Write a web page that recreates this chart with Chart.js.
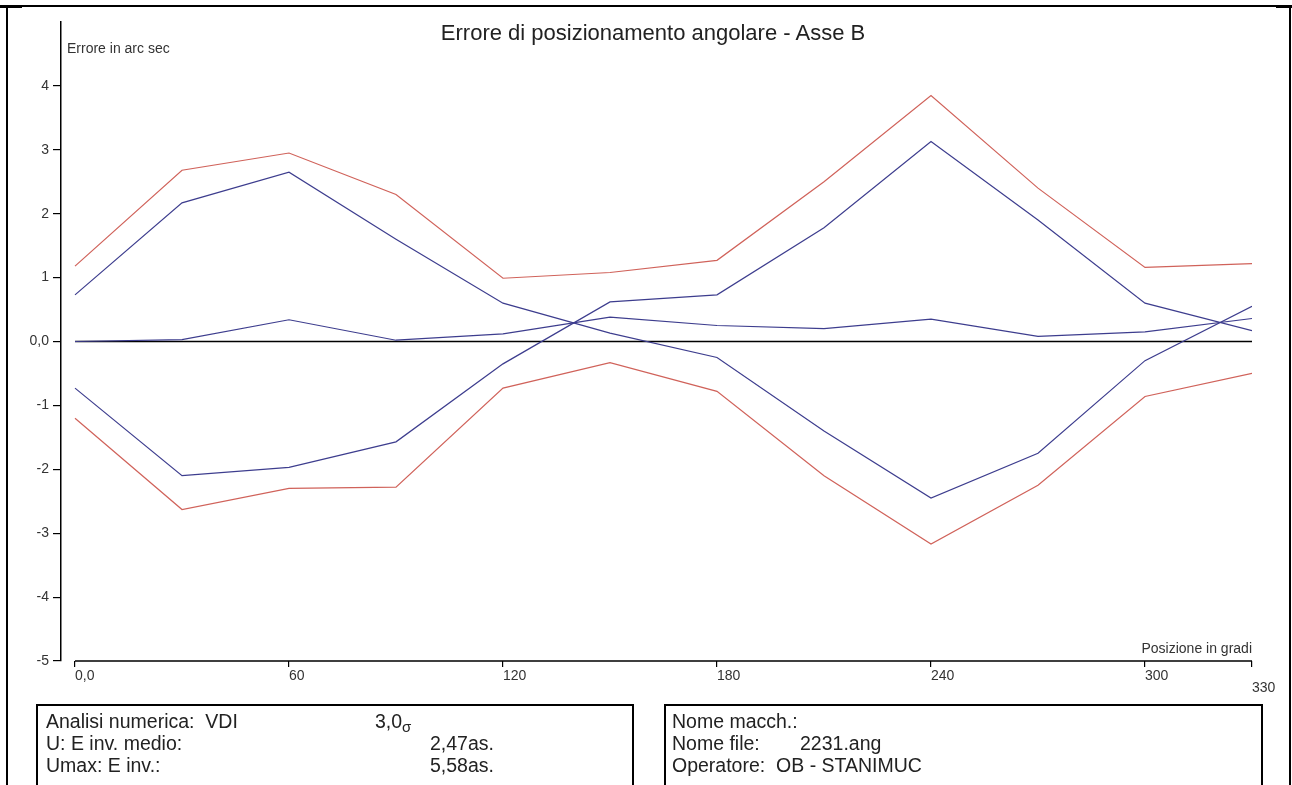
<!DOCTYPE html>
<html>
<head>
<meta charset="utf-8">
<script src="https://cdn.jsdelivr.net/npm/chart.js@4.4.1/dist/chart.umd.min.js"></script>
<style>
  html, body { margin: 0; padding: 0; background: #fff; }
  body { width: 1292px; height: 785px; overflow: hidden; position: relative; font-family: "Liberation Sans", Arial, sans-serif; color: #222; }
  #chartBox { position: absolute; left: 0; top: 0; width: 1292px; height: 785px; }
  .abs { position: absolute; white-space: pre; }
  .rule { position: absolute; background: #000; }
  .box { position: absolute; border: 2px solid #000; background: transparent; box-sizing: border-box; }
  .bt { position: absolute; font-size: 19.5px; line-height: 22px; white-space: pre; color: #222; }
</style>
</head>
<body>
<div id="chartBox"><canvas id="c" width="1292" height="785"></canvas></div>

<!-- page frame -->
<div class="rule" style="left:0;top:5px;width:1292px;height:2px;"></div>
<div class="rule" style="left:0;top:5px;width:22px;height:3px;"></div>
<div class="rule" style="left:1276px;top:5px;width:16px;height:3px;"></div>
<div class="rule" style="left:6px;top:5px;width:2px;height:780px;"></div>
<div class="rule" style="left:1289px;top:5px;width:2px;height:780px;"></div>

<!-- titles -->
<div class="abs" id="title" style="left:0;width:1306px;top:21px;text-align:center;font-size:22px;line-height:24px;color:#222;">Errore di posizionamento angolare - Asse B</div>
<div class="abs" style="left:67px;top:40px;font-size:14px;line-height:16px;color:#333;">Errore in arc sec</div>
<div class="abs" style="left:1052px;width:200px;top:640px;text-align:right;font-size:14px;line-height:16px;color:#333;">Posizione in gradi</div>

<!-- info boxes -->
<div class="box" style="left:36px;top:704px;width:598px;height:100px;"></div>
<div class="box" style="left:664px;top:704px;width:599px;height:100px;"></div>

<div class="bt" style="left:46px;top:710px;">Analisi numerica:  VDI</div>
<div class="bt" style="left:375px;top:710px;">3,0<span style="font-size:15px;position:relative;top:4px;">σ</span></div>
<div class="bt" style="left:46px;top:732px;">U: E inv. medio:</div>
<div class="bt" style="left:430px;top:732px;">2,47as.</div>
<div class="bt" style="left:46px;top:754px;">Umax: E inv.:</div>
<div class="bt" style="left:430px;top:754px;">5,58as.</div>

<div class="bt" style="left:672px;top:710px;">Nome macch.:</div>
<div class="bt" style="left:672px;top:732px;">Nome file:</div>
<div class="bt" style="left:800px;top:732px;">2231.ang</div>
<div class="bt" style="left:672px;top:754px;">Operatore:  OB - STANIMUC</div>

<script>
// ---- data ----
const positions   = [0, 30, 60, 90, 120, 150, 180, 210, 240, 270, 300, 330];
const upperLimit  = [1.18, 2.68, 2.95, 2.30, 0.99, 1.08, 1.27, 2.50, 3.85, 2.40, 1.16, 1.22];
const lowerLimit  = [-1.20, -2.63, -2.30, -2.28, -0.73, -0.33, -0.78, -2.10, -3.17, -2.25, -0.86, -0.50];
const runForward  = [0.73, 2.17, 2.65, 1.60, 0.60, 0.13, -0.25, -1.40, -2.45, -1.75, -0.30, 0.55];
const runBackward = [-0.73, -2.10, -1.97, -1.57, -0.35, 0.62, 0.73, 1.78, 3.13, 1.90, 0.60, 0.17];
const meanError   = [0.00, 0.03, 0.34, 0.02, 0.12, 0.38, 0.25, 0.20, 0.35, 0.08, 0.15, 0.36];

const xTickValues = [0, 60, 120, 180, 240, 300, 330];
const xTickLabels = ['0,0', '60', '120', '180', '240', '300', '330'];
const yTickValues = [-5, -4, -3, -2, -1, 0, 1, 2, 3, 4];
const yTickLabels = ['-5', '-4', '-3', '-2', '-1', '0,0', '1', '2', '3', '4'];

const RED = '#d0625a';
const BLUE = '#3d3d8e';

function pts(arr) { return positions.map((p, i) => ({ x: p, y: arr[i] })); }

const axisLines = {
  id: 'axisLines',
  beforeDatasetsDraw(chart) {
    const { ctx, chartArea, scales } = chart;
    const x0 = scales.x.getPixelForValue(positions[0]);
    const x1 = scales.x.getPixelForValue(positions[positions.length - 1]);
    ctx.save();
    ctx.strokeStyle = '#000';
    ctx.lineWidth = 1.5;
    ctx.beginPath();
    ctx.moveTo(x0, chartArea.bottom);
    ctx.lineTo(x1, chartArea.bottom);
    const yz = scales.y.getPixelForValue(0);
    ctx.moveTo(x0, yz);
    ctx.lineTo(x1, yz);
    ctx.stroke();
    ctx.restore();
  }
};

const lineDs = (label, arr, color) => ({
  label, data: pts(arr), borderColor: color, backgroundColor: color,
  borderWidth: 1.2, pointRadius: 0, tension: 0, fill: false
});

new Chart(document.getElementById('c'), {
  type: 'line',
  data: {
    datasets: [
      lineDs('Limite superiore', upperLimit, RED),
      lineDs('Limite inferiore', lowerLimit, RED),
      lineDs('Corsa avanti', runForward, BLUE),
      lineDs('Corsa indietro', runBackward, BLUE),
      lineDs('Media', meanError, BLUE)
    ]
  },
  options: {
    responsive: false,
    devicePixelRatio: 1,
    animation: false,
    layout: { padding: { top: 22, right: 40, left: 0, bottom: 0 } },
    plugins: { legend: { display: false }, tooltip: { enabled: false }, title: { display: false } },
    scales: {
      x: {
        type: 'linear',
        min: -3.925,
        max: 330,
        afterFit(scale) { scale.height = 124; },
        afterBuildTicks(scale) { scale.ticks = xTickValues.map(v => ({ value: v })); },
        border: { display: false },
        grid: { drawOnChartArea: false, drawTicks: true, tickLength: 6, color: '#000', lineWidth: 1.2 },
        ticks: {
          autoSkip: false, maxRotation: 0, align: 'start', padding: 4,
          color: '#333',
          font: { family: 'Liberation Sans', size: 14, lineHeight: 0.8 },
          callback(v) {
            const i = xTickValues.indexOf(v);
            const lab = i >= 0 ? xTickLabels[i] : '';
            return v === 330 ? ['', lab] : lab;
          }
        }
      },
      y: {
        type: 'linear',
        min: -5,
        max: 5,
        afterFit(scale) { scale.width = 61; },
        afterBuildTicks(scale) { scale.ticks = yTickValues.map(v => ({ value: v })); },
        border: { display: true, color: '#000', width: 1.5 },
        grid: { drawOnChartArea: false, drawTicks: true, tickLength: 8, color: '#000', lineWidth: 1.2 },
        ticks: {
          padding: 4, color: '#333',
          font: { family: 'Liberation Sans', size: 14 },
          callback(v) {
            const i = yTickValues.indexOf(v);
            return i >= 0 ? yTickLabels[i] : '';
          }
        }
      }
    }
  },
  plugins: [axisLines]
});
</script>
</body>
</html>
